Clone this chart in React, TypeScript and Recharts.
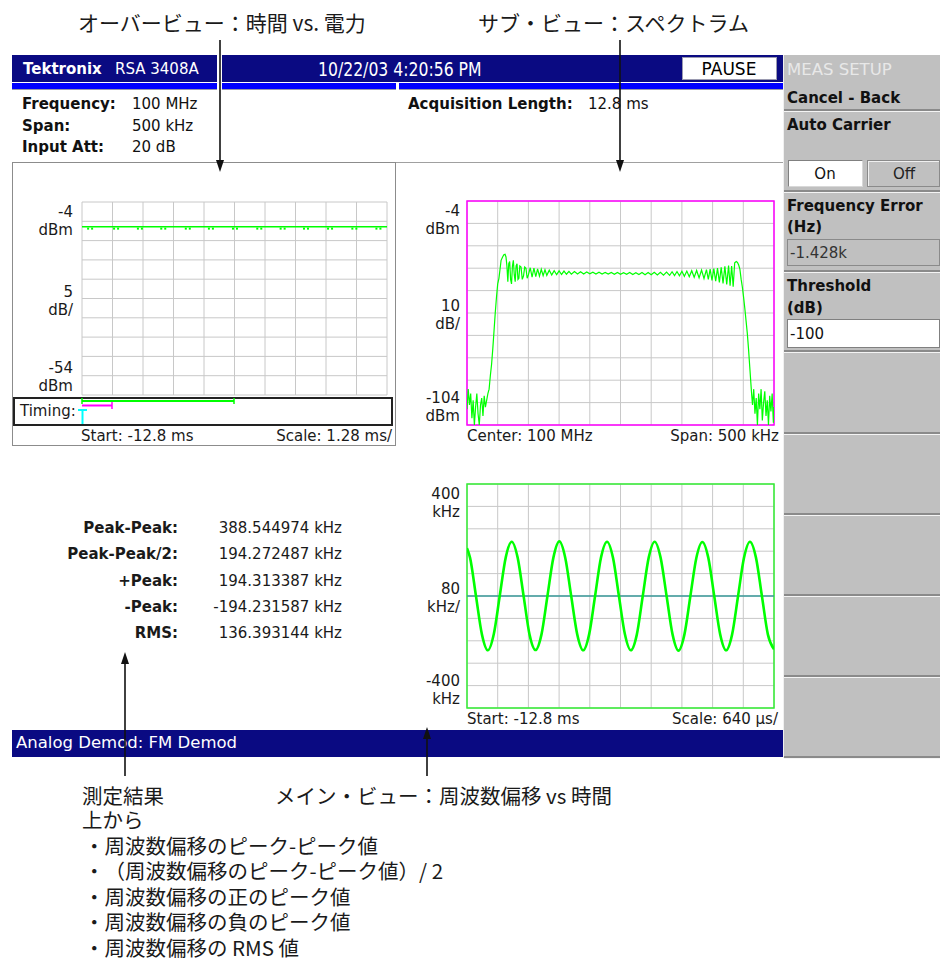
import React from "react";
import {
  ComposedChart,
  LineChart,
  Line,
  Scatter,
  XAxis,
  YAxis,
  CartesianGrid,
  ReferenceLine,
  ReferenceArea,
} from "recharts";

const UI = "'DejaVu Sans', Verdana, sans-serif";
const NARROW = "'Liberation Sans Narrow', 'DejaVu Sans Condensed', 'Arial Narrow', sans-serif";
const JP = "'Noto Sans CJK JP', sans-serif";
const NAVY = "#0a0a82";
const GREEN = "#00ff00";
const GRID = "#c8c8c8";

// overview : time vs power (dBm), -12.8 ms .. 0 ms
const overviewTicksX = [-12.8, -11.52, -10.24, -8.96, -7.68, -6.4, -5.12, -3.84, -2.56, -1.28, 0];
const overviewTicksY = [-54, -49, -44, -39, -34, -29, -24, -19, -14, -9, -4];
const overviewTrace: [number, number][] = [
  [-12.8, -10.4],
  [0, -10.4],
];
const overviewDips: [number, number][] = [
  [-12.46, -10.9], [-11.37, -10.9], [-10.37, -10.9], [-9.39, -10.9], [-8.36, -10.9],
  [-7.39, -10.9], [-6.38, -10.9], [-5.36, -10.9], [-4.38, -10.9], [-3.4, -10.9],
  [-2.39, -10.9], [-1.37, -10.9], [-0.36, -10.9],
];

// sub view : spectrum, center 100 MHz, span 500 kHz (offset in kHz, level in dBm)
const spectrumTicksX = [-250, -200, -150, -100, -50, 0, 50, 100, 150, 200, 250];
const spectrumTicksY = [-104, -94, -84, -74, -64, -54, -44, -34, -24, -14, -4];
const spectrumTrace: [number, number][] = [
  [-250, -97], [-248, -88], [-246, -95], [-244, -90], [-242, -101], [-240, -93], [-238, -104],
  [-236, -96], [-234, -90], [-232, -99], [-230, -104], [-228, -95], [-226, -92], [-224, -100],
  [-222, -91], [-220, -96], [-218, -93], [-216, -90], [-214, -88], [-212, -82], [-210, -77],
  [-208, -70], [-206, -62], [-204, -54], [-202, -47], [-200, -41], [-198, -38.5], [-196, -34],
  [-194.5, -30.5], [-192, -29], [-190, -28], [-188, -27.8], [-186.5, -29], [-185, -33],
  [-183.5, -40], [-182, -32], [-180.5, -31], [-179, -39], [-177.5, -41], [-176, -33],
  [-174.5, -30.5], [-173, -37], [-171.5, -40], [-170, -33], [-168.5, -32], [-167, -39],
  [-165.5, -38.5], [-164, -33], [-162, -33.5], [-160, -39], [-158, -37.5], [-156, -33.5],
  [-154, -34], [-152, -38.5], [-150, -37], [-147, -33.8], [-144, -38], [-141, -34],
  [-138, -37.8], [-135, -34.3], [-132, -37.5], [-129, -34.5], [-126, -37.3], [-123, -34.7],
  [-120, -37.2], [-116, -34.9], [-112, -37], [-108, -35.1], [-104, -36.9], [-100, -35.2],
  [-96, -36.8], [-92, -35.3], [-88, -36.7], [-84, -35.4], [-80, -36.7], [-75, -35.5],
  [-70, -36.6], [-65, -35.6], [-60, -36.6], [-55, -35.7], [-50, -36.5], [-45, -35.8],
  [-40, -36.6], [-35, -35.8], [-30, -36.6], [-25, -35.9], [-20, -36.6], [-15, -35.9],
  [-10, -36.7], [-5, -35.9], [0, -36.7], [5, -36], [10, -36.7], [15, -35.9], [20, -36.8],
  [25, -36], [30, -36.8], [35, -35.9], [40, -36.9], [45, -35.9], [50, -36.9], [55, -35.8],
  [60, -37], [65, -35.8], [70, -37.1], [75, -35.7], [80, -37.2], [84, -35.6], [88, -37.3],
  [92, -35.5], [96, -37.4], [100, -35.4], [104, -37.6], [108, -35.3], [112, -37.8],
  [116, -35.1], [120, -38], [124, -35], [128, -38.3], [132, -34.8], [136, -38.6],
  [140, -34.6], [143, -39], [146, -34.4], [149, -39.4], [152, -34.2], [155, -39.8],
  [158, -34], [161, -40.3], [164, -33.6], [167, -40.8], [170, -33.2], [173, -41.3],
  [176, -32.8], [178.5, -41.8], [181, -33], [183.5, -42.3], [186, -31.6], [188.5, -31],
  [190.5, -31.4], [192.5, -32.6], [194.5, -34.5], [196.5, -39], [198.5, -42.5], [200.5, -47],
  [202.5, -52], [204.5, -57.5], [206.5, -63], [208.5, -70], [210.5, -78], [212, -84],
  [213.5, -90], [215, -95], [217, -88], [219, -99], [221, -92], [223, -104], [225, -90],
  [227, -97], [229, -88], [231, -102], [233, -94], [235, -89], [237, -100], [239, -93],
  [241, -104], [243, -91], [245, -98], [247, -90], [249, -103], [250, -96],
];

// main view : FM deviation (kHz) vs time (ms)
const fmTicksX = [-12.8, -12.16, -11.52, -10.88, -10.24, -9.6, -8.96, -8.32, -7.68, -7.04, -6.4];
const fmTicksY = [-400, -320, -240, -160, -80, 0, 80, 160, 240, 320, 400];
const fmTrace: [number, number][] = [
  [-12.8, 171], [-12.737, 137], [-12.613, 0], [-12.489, -137], [-12.365, -194],
  [-12.241, -136], [-12.117, 1], [-11.992, 138], [-11.868, 194], [-11.744, 137],
  [-11.62, 0], [-11.496, -138], [-11.371, -193], [-11.247, -137], [-11.123, 0],
  [-10.999, 137], [-10.875, 195], [-10.751, 136], [-10.627, -1], [-10.502, -137],
  [-10.378, -194], [-10.254, -137], [-10.13, 0], [-10.006, 138], [-9.881, 194],
  [-9.757, 137], [-9.633, 0], [-9.509, -136], [-9.385, -194], [-9.26, -138],
  [-9.136, 0], [-9.012, 137], [-8.888, 194], [-8.764, 137], [-8.64, 1], [-8.515, -137],
  [-8.391, -195], [-8.267, -137], [-8.143, 0], [-8.019, 136], [-7.894, 193],
  [-7.77, 137], [-7.646, 0], [-7.522, -137], [-7.398, -194], [-7.273, -137],
  [-7.149, 0], [-7.025, 137], [-6.901, 194], [-6.777, 138], [-6.652, 0],
  [-6.528, -137], [-6.4, -190],
];

type AxisLabel = { value: number; lines: [string, string]; place: "top" | "mid" | "bottom" };
const overviewYLabels: AxisLabel[] = [
  { value: -4, lines: ["-4", "dBm"], place: "top" },
  { value: -29, lines: ["5", "dB/"], place: "mid" },
  { value: -54, lines: ["-54", "dBm"], place: "bottom" },
];
const spectrumYLabels: AxisLabel[] = [
  { value: -4, lines: ["-4", "dBm"], place: "top" },
  { value: -54, lines: ["10", "dB/"], place: "mid" },
  { value: -104, lines: ["-104", "dBm"], place: "bottom" },
];
const fmYLabels: AxisLabel[] = [
  { value: 400, lines: ["400", "kHz"], place: "top" },
  { value: 0, lines: ["80", "kHz/"], place: "mid" },
  { value: -400, lines: ["-400", "kHz"], place: "bottom" },
];

const resultLabels = ["Peak-Peak:", "Peak-Peak/2:", "+Peak:", "-Peak:", "RMS:"];
const resultValues = ["388.544974 kHz", "194.272487 kHz", "194.313387 kHz", "-194.231587 kHz", "136.393144 kHz"];

const noteLines = [
  "上から",
  "・周波数偏移のピーク-ピーク値",
  "・（周波数偏移のピーク-ピーク値）/ 2",
  "・周波数偏移の正のピーク値",
  "・周波数偏移の負のピーク値",
  "・周波数偏移の RMS 値",
];

const toPoints = (rows: [number, number][]) => rows.map(([t, p]) => ({ t, p }));

const NoTick = () => <g />;

function makeTick(labels: AxisLabel[], gap: number) {
  return (props: any) => {
    const { x, y, payload } = props;
    const lab = labels.find((l) => l.value === payload.value);
    if (!lab) return <g />;
    const dy = lab.place === "top" ? [10, 28] : lab.place === "mid" ? [-7, 11] : [-27, -9];
    return (
      <g>
        {lab.lines.map((s, i) => (
          <text
            key={i}
            x={x - gap}
            y={y + dy[i]}
            textAnchor="end"
            dominantBaseline="central"
            fontFamily={UI}
            fontSize={15}
            fill="#1a1a1a"
          >
            {s}
          </text>
        ))}
      </g>
    );
  };
}

function Txt(props: {
  x: number;
  y: number;
  children: React.ReactNode;
  align?: "left" | "right" | "center";
  sx?: number;
  style?: React.CSSProperties;
}) {
  const { x, y, children, align = "left", sx, style } = props;
  let tr =
    align === "right" ? "translate(-100%,-50%)" : align === "center" ? "translate(-50%,-50%)" : "translateY(-50%)";
  if (sx) tr += ` scaleX(${sx})`;
  return (
    <div
      style={{
        position: "absolute",
        left: x,
        top: y,
        transform: tr,
        transformOrigin: "left center",
        whiteSpace: "nowrap",
        lineHeight: 1,
        ...style,
      }}
    >
      {children}
    </div>
  );
}

function Box(props: { x: number; y: number; w: number; h: number; style?: React.CSSProperties; children?: React.ReactNode }) {
  return (
    <div
      style={{
        position: "absolute",
        left: props.x,
        top: props.y,
        width: props.w,
        height: props.h,
        boxSizing: "border-box",
        ...props.style,
      }}
    >
      {props.children}
    </div>
  );
}

function OverviewChart() {
  return (
    <div style={{ position: "absolute", left: 14, top: 194 }}>
      <ComposedChart
        width={375}
        height={205}
        data={toPoints(overviewTrace)}
        margin={{ top: 8, right: 2, bottom: 4, left: 0 }}
      >
        <CartesianGrid stroke={GRID} />
        <XAxis
          type="number"
          dataKey="t"
          domain={[-12.8, 0]}
          ticks={overviewTicksX}
          interval={0}
          height={0}
          tick={NoTick}
          axisLine={false}
          tickLine={false}
          allowDataOverflow
        />
        <YAxis
          type="number"
          dataKey="p"
          domain={[-54, -4]}
          ticks={overviewTicksY}
          width={68}
          axisLine={false}
          tickLine={false}
          tickSize={0}
          tickMargin={0}
          interval={0}
          tick={makeTick(overviewYLabels, 9)}
          allowDataOverflow
        />
        <Line dataKey="p" stroke={GREEN} strokeWidth={1.5} dot={false} isAnimationActive={false} />
        <Scatter
          data={toPoints(overviewDips)}
          dataKey="p"
          isAnimationActive={false}
          shape={(p: any) => (
            <g>
              <rect x={p.cx - 3} y={p.cy - 1} width={2} height={2} fill={GREEN} />
              <rect x={p.cx + 1} y={p.cy - 1} width={2} height={2} fill={GREEN} />
            </g>
          )}
        />
      </ComposedChart>
    </div>
  );
}

function SpectrumChart() {
  return (
    <div style={{ position: "absolute", left: 400, top: 193 }}>
      <LineChart width={376} height={236} data={toPoints(spectrumTrace)} margin={{ top: 8, right: 2, bottom: 4, left: 0 }}>
        <CartesianGrid stroke={GRID} />
        <XAxis
          type="number"
          dataKey="t"
          domain={[-250, 250]}
          ticks={spectrumTicksX}
          interval={0}
          height={0}
          tick={NoTick}
          axisLine={false}
          tickLine={false}
          allowDataOverflow
        />
        <YAxis
          type="number"
          domain={[-104, -4]}
          ticks={spectrumTicksY}
          width={67}
          axisLine={false}
          tickLine={false}
          tickSize={0}
          tickMargin={0}
          interval={0}
          tick={makeTick(spectrumYLabels, 7)}
          allowDataOverflow
        />
        <ReferenceArea x1={-250} x2={250} y1={-104} y2={-4} fill="none" fillOpacity={0} stroke="#ff00ff" strokeWidth={1.5} />
        <Line type="linear" dataKey="p" stroke={GREEN} strokeWidth={1.2} dot={false} isAnimationActive={false} />
      </LineChart>
    </div>
  );
}

function FmChart() {
  return (
    <div style={{ position: "absolute", left: 400, top: 476 }}>
      <LineChart width={376} height={236} data={toPoints(fmTrace)} margin={{ top: 8, right: 2, bottom: 4, left: 0 }}>
        <CartesianGrid stroke={GRID} />
        <XAxis
          type="number"
          dataKey="t"
          domain={[-12.8, -6.4]}
          ticks={fmTicksX}
          interval={0}
          height={0}
          tick={NoTick}
          axisLine={false}
          tickLine={false}
          allowDataOverflow
        />
        <YAxis
          type="number"
          domain={[-400, 400]}
          ticks={fmTicksY}
          width={67}
          axisLine={false}
          tickLine={false}
          tickSize={0}
          tickMargin={0}
          interval={0}
          tick={makeTick(fmYLabels, 7)}
          allowDataOverflow
        />
        <ReferenceArea x1={-12.8} x2={-6.4} y1={-400} y2={400} fill="none" fillOpacity={0} stroke="#33ee33" strokeWidth={1.5} />
        <ReferenceLine y={0} stroke="#3a9a9a" strokeWidth={1.5} />
        <Line type="monotone" dataKey="p" stroke={GREEN} strokeWidth={2.6} dot={false} isAnimationActive={false} />
      </LineChart>
    </div>
  );
}

function Separator({ y }: { y: number }) {
  return <Box x={784} y={y} w={156} h={3} style={{ borderTop: "2px solid #8a8a8a", borderBottom: "1px solid #f4f4f4" }} />;
}

function ArrowDown({ x, y1, y2 }: { x: number; y1: number; y2: number }) {
  return (
    <g>
      <line x1={x} y1={y1} x2={x} y2={y2 - 8} stroke="#111" strokeWidth={1.6} />
      <polygon points={`${x - 4},${y2 - 12} ${x + 4},${y2 - 12} ${x},${y2}`} fill="#111" />
    </g>
  );
}

function ArrowUp({ x, y1, y2 }: { x: number; y1: number; y2: number }) {
  return (
    <g>
      <line x1={x} y1={y1 + 8} x2={x} y2={y2} stroke="#111" strokeWidth={1.6} />
      <polygon points={`${x - 4},${y1 + 12} ${x + 4},${y1 + 12} ${x},${y1}`} fill="#111" />
    </g>
  );
}

export default function App() {
  const menuBold: React.CSSProperties = { fontFamily: UI, fontWeight: 700, fontSize: 15, color: "#111" };
  const menuReg: React.CSSProperties = { fontFamily: UI, fontSize: 15, color: "#111" };
  const infoBold: React.CSSProperties = { fontFamily: UI, fontWeight: 700, fontSize: 15, color: "#111" };
  const infoReg: React.CSSProperties = { fontFamily: UI, fontSize: 15, color: "#111" };
  const chartTxt: React.CSSProperties = { fontFamily: UI, fontSize: 15, color: "#1a1a1a" };
  const jp: React.CSSProperties = {
    fontFamily: JP,
    fontSize: 20.5,
    color: "#1a1a1a",
    textSpacingTrim: "space-all",
  } as React.CSSProperties;

  return (
    <div
      style={{
        position: "absolute",
        left: 0,
        top: 0,
        width: 940,
        height: 962,
        background: "#fff",
        overflow: "hidden",
        fontFamily: UI,
      }}
    >
      {/* callout titles */}
      <Txt x={78} y={22} style={{ ...jp, fontSize: 21 }}>オーバービュー：時間 vs. 電力</Txt>
      <Txt x={478} y={22} style={{ ...jp, fontSize: 21 }}>サブ・ビュー：スペクトラム</Txt>

      {/* header bar */}
      <Box x={12} y={55} w={205} h={27} style={{ background: NAVY }} />
      <Box x={222} y={55} w={561} h={27} style={{ background: NAVY }} />
      <Txt x={23} y={69} style={{ fontFamily: UI, fontWeight: 700, fontSize: 15, color: "#fff" }}>Tektronix</Txt>
      <Txt x={115} y={69} style={{ fontFamily: UI, fontSize: 15, color: "#fff" }}>RSA 3408A</Txt>
      <Txt x={318} y={69} sx={0.87} style={{ fontFamily: NARROW, fontSize: 20, color: "#fff" }}>10/22/03 4:20:56 PM</Txt>
      <Box x={682} y={57} w={95} h={23} style={{ background: "#fff", border: "1px solid #9a9ab0" }} />
      <Txt x={729} y={69} align="center" style={{ fontFamily: UI, fontSize: 17, color: "#000" }}>PAUSE</Txt>

      {/* blue status strip */}
      <Box x={12} y={83} w={205} h={7} style={{ background: "#0000ff", borderBottom: "1px solid #9a9aa8" }} />
      <Box x={222} y={83} w={174} h={7} style={{ background: "#0000ff", borderBottom: "1px solid #9a9aa8" }} />
      <Box x={399} y={83} w={384} h={7} style={{ background: "#0000ff", borderBottom: "1px solid #9a9aa8" }} />

      {/* settings */}
      <Txt x={22} y={104} style={infoBold}>Frequency:</Txt>
      <Txt x={132} y={104} style={infoReg}>100 MHz</Txt>
      <Txt x={22} y={126} style={infoBold}>Span:</Txt>
      <Txt x={132} y={126} style={infoReg}>500 kHz</Txt>
      <Txt x={22} y={147} style={infoBold}>Input Att:</Txt>
      <Txt x={132} y={147} style={infoReg}>20 dB</Txt>
      <Txt x={408} y={104} style={infoBold}>Acquisition Length:</Txt>
      <Txt x={588} y={104} style={infoReg}>12.8 ms</Txt>

      <Box x={12} y={162} w={771} h={1} style={{ background: "#a0a0a0" }} />

      {/* overview panel */}
      <Box x={12} y={162} w={384} h={284} style={{ border: "1px solid #8c8c8c" }} />
      <OverviewChart />
      <Box x={13} y={397} w={380} h={29} style={{ border: "2px solid #222" }} />
      <Txt x={20} y={411} style={chartTxt}>Timing:</Txt>
      <svg style={{ position: "absolute", left: 0, top: 0 }} width={400} height={450}>
        <line x1={82} y1={401} x2={234} y2={401} stroke={GREEN} strokeWidth={2} />
        <line x1={82} y1={398} x2={82} y2={404} stroke={GREEN} strokeWidth={1.5} />
        <line x1={234} y1={398} x2={234} y2={404} stroke={GREEN} strokeWidth={1.5} />
        <line x1={82} y1={405.5} x2={112} y2={405.5} stroke="#ff00ff" strokeWidth={2} />
        <line x1={112} y1={402} x2={112} y2={409} stroke="#ff00ff" strokeWidth={1.5} />
        <line x1={78} y1={410} x2={87} y2={410} stroke="#00ffff" strokeWidth={2} />
        <line x1={82.5} y1={410} x2={82.5} y2={424} stroke="#00ffff" strokeWidth={2} />
      </svg>
      <Txt x={81} y={436} style={chartTxt}>Start: -12.8 ms</Txt>
      <Txt x={392} y={436} align="right" style={chartTxt}>Scale: 1.28 ms/</Txt>

      {/* spectrum */}
      <SpectrumChart />
      <Txt x={467} y={436} style={chartTxt}>Center: 100 MHz</Txt>
      <Txt x={779} y={436} align="right" style={chartTxt}>Span: 500 kHz</Txt>

      {/* FM demod */}
      <FmChart />
      <Txt x={467} y={719} style={chartTxt}>Start: -12.8 ms</Txt>
      <Txt x={778} y={719} align="right" style={chartTxt}>Scale: 640 µs/</Txt>

      {/* results */}
      {resultLabels.map((l, i) => (
        <Txt key={l} x={178} y={528 + i * 26.3} align="right" style={{ ...infoBold, color: "#1a1a1a" }}>
          {l}
        </Txt>
      ))}
      {resultValues.map((v, i) => (
        <Txt key={v} x={342} y={528 + i * 26.3} align="right" style={{ ...infoReg, color: "#1a1a1a" }}>
          {v}
        </Txt>
      ))}

      {/* bottom bar */}
      <Box x={12} y={730} w={771} h={27} style={{ background: NAVY }} />
      <Txt x={16} y={743} style={{ fontFamily: UI, fontSize: 16.5, color: "#fff" }}>Analog Demod: FM Demod</Txt>

      {/* soft-key menu */}
      <Box x={783} y={55} w={157} h={703} style={{ background: "#c0c0c0", borderLeft: "1px solid #f0f0f0" }} />
      <Txt x={787} y={70} style={{ fontFamily: UI, fontSize: 16.5, color: "#e8e8e8" }}>MEAS SETUP</Txt>
      <Txt x={787} y={98} style={menuBold}>Cancel - Back</Txt>
      <Separator y={109} />
      <Txt x={787} y={125} style={menuBold}>Auto Carrier</Txt>
      <Box x={788} y={160} w={75} h={27} style={{ background: "#fff", borderTop: "1px solid #808080", borderLeft: "1px solid #808080", borderBottom: "1px solid #d8d8d8", borderRight: "1px solid #d8d8d8" }} />
      <Txt x={825} y={174} align="center" style={menuReg}>On</Txt>
      <Box x={867} y={160} w={73} h={27} style={{ background: "#c0c0c0", border: "1px solid #8a8a8a", boxShadow: "inset 1px 1px 0 #f0f0f0" }} />
      <Txt x={904} y={174} align="center" style={{ ...menuReg, color: "#222" }}>Off</Txt>
      <Separator y={190} />
      <Txt x={787} y={206} style={menuBold}>Frequency Error</Txt>
      <Txt x={787} y={227} style={menuBold}>(Hz)</Txt>
      <Box x={787} y={239} w={153} h={27} style={{ background: "#c0c0c0", border: "1px solid #8a8a8a" }} />
      <Txt x={790} y={253} style={{ ...menuReg, color: "#333" }}>-1.428k</Txt>
      <Separator y={270} />
      <Txt x={787} y={286} style={menuBold}>Threshold</Txt>
      <Txt x={787} y={308} style={menuBold}>(dB)</Txt>
      <Box x={787} y={319} w={153} h={29} style={{ background: "#fff", border: "1px solid #808080" }} />
      <Txt x={790} y={334} style={menuReg}>-100</Txt>
      <Separator y={350} />
      <Separator y={432} />
      <Separator y={513} />
      <Separator y={594} />
      <Separator y={675} />
      <Separator y={756} />

      {/* bottom callouts */}
      <Txt x={82} y={795} style={jp}>測定結果</Txt>
      <Txt x={275} y={795} style={jp}>メイン・ビュー：周波数偏移 vs 時間</Txt>
      {noteLines.map((s, i) => (
        <Txt key={s} x={i === 0 ? 82 : 84} y={819 + i * 25.6} style={jp}>
          {s}
        </Txt>
      ))}

      {/* arrows */}
      <svg style={{ position: "absolute", left: 0, top: 0, pointerEvents: "none" }} width={940} height={962}>
        <ArrowDown x={220} y1={40} y2={172} />
        <ArrowDown x={620} y1={40} y2={172} />
        <ArrowUp x={125} y1={652} y2={776} />
        <ArrowUp x={427} y1={727} y2={776} />
      </svg>
    </div>
  );
}
